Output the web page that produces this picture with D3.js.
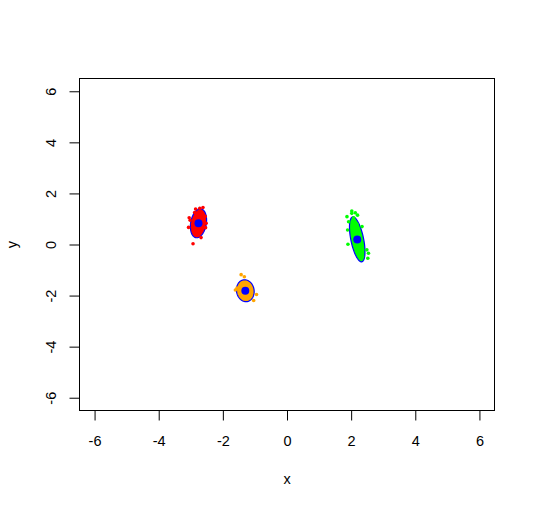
<!DOCTYPE html>
<html>
<head>
	<meta charset="utf-8">
	<script src="https://d3js.org/d3.v7.min.js"></script>
	<style>
		body { margin: 0; background: #fff; }
		svg { font-family: "Liberation Sans", Arial, sans-serif; }
	</style>
</head>
<body>
	<div id='chart'></div>

	<script type="text/javascript">
		// cluster names and colours
		const clusters = ['red', 'orange', 'green']
		const clusterColors = ['#ff0000', '#ffa500', '#00ff00']

		// cluster centres (blue dots)
		const centerX = [-2.76, -1.30, 2.19]
		const centerY = [0.83, -1.81, 0.20]

		// ellipse: semi-major, semi-minor, angle (deg, data space)
		const ellA = [0.57, 0.43, 0.89]
		const ellB = [0.245, 0.275, 0.2]
		const ellAngle = [83, 95, 99]

		// observations per cluster
		const redPts = [
			[-2.62, 1.45], [-3.05, 1.05], [-3.07, 0.67], [-2.52, 0.83], [-2.54, 0.66],
			[-2.93, 0.03], [-2.68, 0.27], [-2.85, 1.39], [-2.72, 1.42], [-3.02, 0.95],
			[-2.55, 1.10], [-2.80, 1.20], [-2.75, 0.50], [-2.85, 0.90], [-2.70, 1.00],
			[-2.90, 0.60], [-2.78, 0.35], [-2.66, 1.15], [-2.88, 1.25], [-2.74, 0.75],
			[-2.82, 0.45], [-2.69, 0.62], [-2.95, 0.80], [-2.62, 0.90], [-2.80, 1.05]
		]
		const orangePts = [
			[-1.43, -1.18], [-1.33, -1.26], [-1.61, -1.78], [-1.56, -1.71], [-0.95, -1.96],
			[-1.04, -2.19], [-1.35, -1.60], [-1.20, -1.90], [-1.40, -2.00], [-1.25, -1.70],
			[-1.30, -2.10], [-1.20, -1.55]
		]
		const greenPts = [
			[2.02, 1.31], [2.13, 1.24], [2.20, 1.15], [1.87, 1.09], [1.92, 0.89],
			[1.89, 0.57], [1.90, 0.01], [2.34, 0.70], [2.49, -0.21], [2.54, -0.34],
			[2.52, -0.54], [2.36, -0.48], [2.02, 1.22], [2.10, 0.95], [2.15, 0.60],
			[2.22, 0.30], [2.25, -0.10], [2.30, -0.35], [2.05, 0.75], [2.28, 0.10],
			[2.12, 0.40], [2.20, 0.00], [2.35, -0.20], [2.08, 1.05], [2.18, 0.80]
		]
		const points = [redPts, orangePts, greenPts]

		const ticks = [-6, -4, -2, 0, 2, 4, 6]

		const w = 535, h = 509
		const m = {t: 78.5, r: 40.5, b: 98.5, l: 79.5}

		const svg = d3.select('#chart').append('svg')
			.attr('width', w)
			.attr('height', h)

		const sX = d3.scaleLinear().domain([-6.47, 6.47]).range([m.l, w - m.r])
		const sY = d3.scaleLinear().domain([-6.5, 6.5]).range([h - m.b, m.t])

		const plot = svg.append('g')

		// ellipses
		function ellipse(i) {
			const th = ellAngle[i] * Math.PI / 180
			return d3.range(0, 72).map(k => {
				const t = k / 72 * 2 * Math.PI
				const dx = ellA[i] * Math.cos(t) * Math.cos(th) - ellB[i] * Math.sin(t) * Math.sin(th)
				const dy = ellA[i] * Math.cos(t) * Math.sin(th) + ellB[i] * Math.sin(t) * Math.cos(th)
				return [centerX[i] + dx, centerY[i] + dy]
			})
		}
		const line = d3.line().x(d => sX(d[0])).y(d => sY(d[1])).curve(d3.curveLinearClosed)

		clusters.forEach((c, i) => {
			plot.append('path')
				.attr('d', line(ellipse(i)))
				.style('fill', clusterColors[i])
				.style('stroke', '#0000ff')
				.style('stroke-width', 1.2)

			plot.append('g')
				.selectAll('circle')
				.data(points[i])
				.enter()
				.append('circle')
				.attr('cx', d => sX(d[0]))
				.attr('cy', d => sY(d[1]))
				.attr('r', 1.8)
				.style('fill', clusterColors[i])

			plot.append('circle')
				.attr('cx', sX(centerX[i]))
				.attr('cy', sY(centerY[i]))
				.attr('r', 4)
				.style('fill', '#0000ff')
		})

		// box
		svg.append('rect')
			.attr('x', m.l)
			.attr('y', m.t)
			.attr('width', w - m.r - m.l)
			.attr('height', h - m.b - m.t)
			.style('fill', 'none')
			.style('stroke', '#000')

		// axes
		const xAxis = svg.append('g')
			.attr('transform', 'translate(0,' + (h - m.b) + ')')
			.call(d3.axisBottom(sX).tickValues(ticks).tickSize(10).tickPadding(15).tickFormat(d => String(d)))
		xAxis.select('.domain').remove()
		xAxis.selectAll('text').style('font-size', '14.5px').style('fill', '#000')

		const yAxis = svg.append('g')
			.attr('transform', 'translate(' + m.l + ',0)')
			.call(d3.axisLeft(sY).tickValues(ticks).tickSize(10).tickFormat(d => String(d)))
		yAxis.select('.domain').remove()
		yAxis.selectAll('text')
			.attr('x', null).attr('dy', null)
			.attr('text-anchor', 'middle')
			.attr('transform', 'translate(-24,0) rotate(-90)')
			.style('font-size', '14.5px').style('fill', '#000')

		svg.append('text')
			.attr('x', sX(0))
			.attr('y', 484)
			.attr('text-anchor', 'middle')
			.style('font-size', '14.5px')
			.text('x')

		svg.append('text')
			.attr('transform', 'translate(17,' + sY(0) + ') rotate(-90)')
			.attr('text-anchor', 'middle')
			.style('font-size', '14.5px')
			.text('y')
	</script>
</body>
</html>
